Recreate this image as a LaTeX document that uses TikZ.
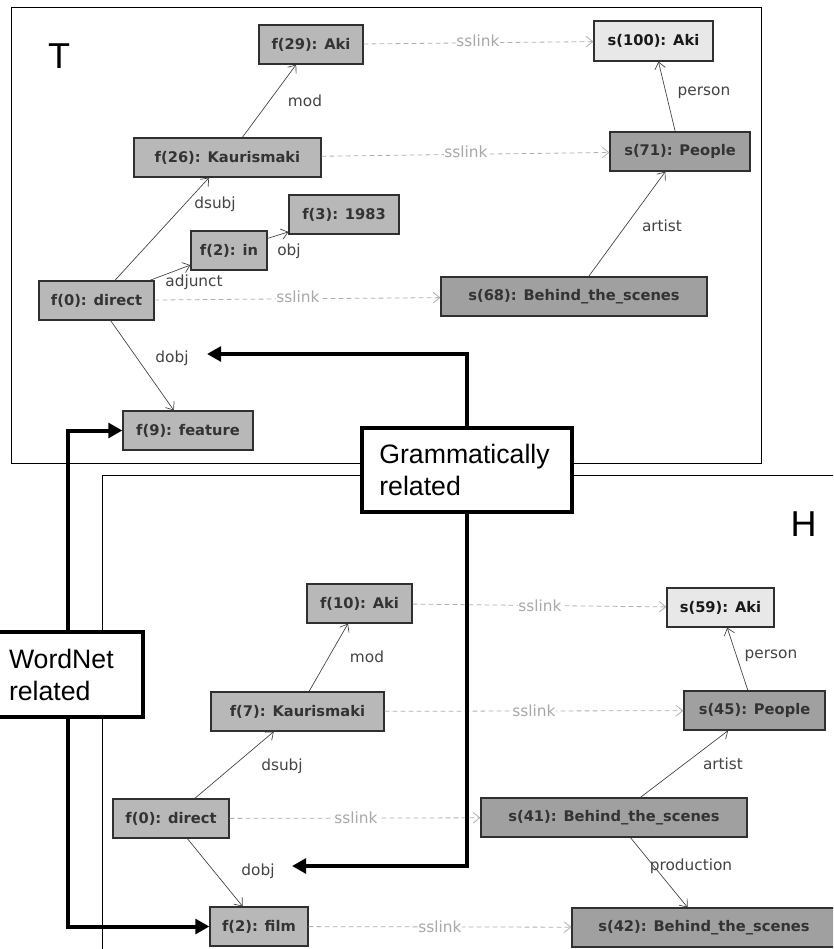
\documentclass[tikz,border=0pt]{standalone}
\usepackage{fontspec}
\setmainfont{DejaVu Sans}
\newfontfamily\calloutfont{Liberation Sans}
\usetikzlibrary{arrows.meta}

\definecolor{fnode}{HTML}{B8B8B8}
\definecolor{snode}{HTML}{A0A0A0}
\definecolor{sleaf}{HTML}{E8E8E8}
\definecolor{nodeline}{HTML}{303030}
\definecolor{nodetext}{HTML}{333333}
\definecolor{linkgrey}{HTML}{B0B0B0}
\definecolor{linktext}{HTML}{A8A8A8}
\definecolor{lblgrey}{HTML}{444444}

\tikzset{
  box/.style={draw=nodeline, line width=0.9pt, minimum height=29.25pt, inner sep=0pt,
    font=\bfseries\fontsize{11}{13}\selectfont, text=nodetext},
  fbox/.style={box, fill=fnode},
  sbox/.style={box, fill=snode},
  leafbox/.style={box, fill=sleaf, text=black!90},
  rel/.style={draw=black!75, line width=0.5pt, -{Straight Barb[length=5pt,width=8pt]}},
  sslink/.style={draw=linkgrey, line width=0.6pt, dash pattern=on 3.5pt off 2.5pt,
    -{Straight Barb[length=5pt,width=8pt]}},
  rellabel/.style={font=\fontsize{11.5}{13}\selectfont, text=lblgrey, inner sep=1pt},
  linklabel/.style={font=\fontsize{11.5}{13}\selectfont, text=linktext, fill=white, inner sep=0.6pt},
  frame/.style={draw=black, line width=0.7pt},
  callout/.style={draw=black, line width=2.6pt, fill=white, align=left, inner ysep=0pt,
    font=\calloutfont\fontsize{20}{24}\selectfont},
  pointer/.style={line width=3pt, -{Triangle[length=10.5pt,width=11pt]}},
  bigletter/.style={font=\calloutfont\fontsize{27}{30}\selectfont, inner sep=0pt, anchor=base}
}

\begin{document}
\begin{tikzpicture}[x=0.75pt, y=-0.75pt]
\useasboundingbox (0,0) rectangle (833,949);
\clip (0,0) rectangle (833,949);
\fill[white] (0,0) rectangle (833,949);

% panel frames
\draw[frame] (11,7) rectangle (761,463);
\draw[frame] (850,475) -- (102,475) -- (102,960);

\node[bigletter] (labT) at (59,69) {T};
\node[bigletter] (labH) at (803.5,536) {H};

% pointer targets next to the dobj relations
\coordinate (tdobjtip) at (207,354);
\coordinate (hdobjtip) at (292,866);

% callout boxes
\node[callout, minimum width=157.5pt, minimum height=63pt, text width=131.5pt, inner xsep=13pt]
  (gram) at (467,470) {Grammatically\\related};
\node[callout, minimum width=112.5pt, minimum height=63.75pt, text width=88.5pt, inner xsep=12pt]
  (wn) at (68,674.5) {WordNet\\related};

% ---------- T graph ----------
\node[fbox, minimum width=78pt]     (tf29) at (311,44.5)   {f(29): Aki};
\node[fbox, minimum width=140.25pt] (tf26) at (227.5,157.5) {f(26): Kaurismaki};
\node[fbox, minimum width=82.5pt]   (tf3)  at (344,214.5)  {f(3): 1983};
\node[fbox, minimum width=57pt]     (tf2)  at (229,250.5)  {f(2): in};
\node[fbox, minimum width=86.25pt]  (tf0)  at (96.5,300.5) {f(0): direct};
\node[fbox, minimum width=97.5pt]   (tf9)  at (188,430.5)  {f(9): feature};
\node[leafbox, minimum width=89.25pt, minimum height=30pt] (ts100) at (653.5,41) {s(100): Aki};
\node[sbox, minimum width=105pt]    (ts71) at (680,151.5)  {s(71): People};
\node[sbox, minimum width=199.5pt]  (ts68) at (574,296.5)  {s(68): Behind\_the\_scenes};

\draw[rel] (tf0) -- (tf26);
\draw[rel] (tf26) -- (tf29);
\draw[rel] (tf0) -- (tf2);
\draw[rel] (tf2) -- (tf3);
\draw[rel] (tf0) -- (tf9);
\draw[rel] (ts71) -- (ts100);
\draw[rel] (ts68) -- (ts71);
\draw[sslink] (tf29) -- (ts100);
\draw[sslink] (tf26) -- (ts71);
\draw[sslink] (tf0) -- (ts68);

\node[rellabel] (tl-dsubj)   at (215,204) {dsubj};
\node[rellabel] (tl-mod)     at (305,101) {mod};
\node[rellabel] (tl-adjunct) at (194,282) {adjunct};
\node[rellabel] (tl-obj)     at (289,251) {obj};
\node[rellabel] (tl-dobj)    at (172,358) {dobj};
\node[rellabel] (tl-person)  at (704,93)  {person};
\node[rellabel] (tl-artist)  at (662,226) {artist};
\node[linklabel] (tl-ss1) at (478,41)  {sslink};
\node[linklabel] (tl-ss2) at (466,152) {sslink};
\node[linklabel] (tl-ss3) at (298,297) {sslink};

% ---------- H graph ----------
\node[fbox, minimum width=78.75pt]  (hf10) at (359.5,603.5) {f(10): Aki};
\node[fbox, minimum width=129.75pt] (hf7)  at (297.5,711.5) {f(7): Kaurismaki};
\node[fbox, minimum width=87pt]     (hf0)  at (171,818.5)   {f(0): direct};
\node[fbox, minimum width=73.5pt]   (hf2)  at (259,926.5)   {f(2): film};
\node[leafbox, minimum width=80.25pt] (hs59) at (720.5,607.5) {s(59): Aki};
\node[sbox, minimum width=105.75pt] (hs45) at (754.5,710.5) {s(45): People};
\node[sbox, minimum width=199.5pt]  (hs41) at (614,817.5)   {s(41): Behind\_the\_scenes};
\node[sbox, minimum width=198pt]    (hs42) at (704,927.5)   {s(42): Behind\_the\_scenes};

\draw[rel] (hf0) -- (hf7);
\draw[rel] (hf7) -- (hf10);
\draw[rel] (hf0) -- (hf2);
\draw[rel] (hs45) -- (hs59);
\draw[rel] (hs41) -- (hs45);
\draw[rel] (hs41) -- (hs42);
\draw[sslink] (hf10) -- (hs59);
\draw[sslink] (hf7) -- (hs45);
\draw[sslink] (hf0) -- (hs41);
\draw[sslink] (hf2) -- (hs42);

\node[rellabel] (hl-mod)    at (367,657) {mod};
\node[rellabel] (hl-dsubj)  at (282,766) {dsubj};
\node[rellabel] (hl-dobj)   at (258,871) {dobj};
\node[rellabel] (hl-person) at (771,656) {person};
\node[rellabel] (hl-artist) at (723,764) {artist};
\node[rellabel] (hl-prod)   at (691,866) {production};
\node[linklabel] (hl-ss1) at (540,606) {sslink};
\node[linklabel] (hl-ss2) at (534,711) {sslink};
\node[linklabel] (hl-ss3) at (356,818) {sslink};
\node[linklabel] (hl-ss4) at (440,927) {sslink};

% ---------- thick pointers from the callouts ----------
\draw[pointer] (gram.north) |- (tdobjtip);
\draw[pointer] (gram.south) |- (hdobjtip);
\draw[pointer] (wn.north) |- (tf9.west);
\draw[pointer] (wn.south) |- (hf2.west);
\end{tikzpicture}
\end{document}
